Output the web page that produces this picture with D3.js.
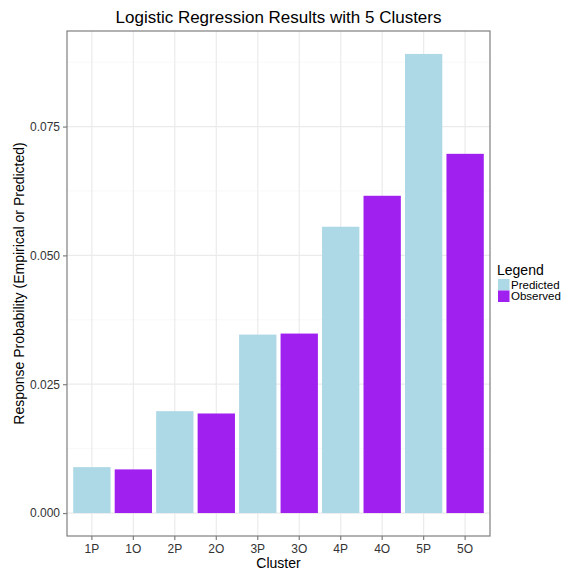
<!DOCTYPE html>
<html>
<head>
<meta charset="utf-8">
<script src="https://cdn.jsdelivr.net/npm/d3@7"></script>
<style>
body { margin: 0; background: #fff; }
text { font-family: "Liberation Sans", Arial, sans-serif; }
</style>
</head>
<body>
<div id="chart"></div>
<script>
// data
var clusters = ["1P", "1O", "2P", "2O", "3P", "3O", "4P", "4O", "5P", "5O"];
var kinds = ["Predicted", "Observed", "Predicted", "Observed", "Predicted", "Observed", "Predicted", "Observed", "Predicted", "Observed"];
var probs = [0.00891, 0.00847, 0.01977, 0.01932, 0.03463, 0.03483, 0.05556, 0.06157, 0.08909, 0.06971];
var yTicks = [0, 0.025, 0.05, 0.075];
var yMinor = [0.0125, 0.0375, 0.0625, 0.0875];
var legendItems = ["Predicted", "Observed"];
var legendColors = ["#ADD8E6", "#A020F0"];

var width = 575, height = 574;
var panel = { left: 67, right: 490, top: 31, bottom: 536 };

var svg = d3.select("#chart").append("svg")
	.attr("width", width)
	.attr("height", height);

//Scales: bands of 0.9, 0.6 step of space at each end (ggplot style)
var x = d3.scaleBand()
	.domain(clusters)
	.range([panel.left, panel.right])
	.paddingInner(0.1)
	.paddingOuter(0.15);

var ymax = d3.max(probs);
var y = d3.scaleLinear()
	.domain([-ymax * 0.05, ymax * 1.05])
	.range([panel.bottom, panel.top]);

var color = d3.scaleOrdinal().domain(legendItems).range(legendColors);

//Panel background
svg.append("rect")
	.attr("x", panel.left).attr("y", panel.top)
	.attr("width", panel.right - panel.left)
	.attr("height", panel.bottom - panel.top)
	.attr("fill", "#fff");

//Grid
svg.selectAll(".minor")
	.data(yMinor)
	.enter().append("line")
	.attr("x1", panel.left).attr("x2", panel.right)
	.attr("y1", function(d) { return y(d); })
	.attr("y2", function(d) { return y(d); })
	.attr("stroke", "#F8F8F8").attr("stroke-width", 1);

svg.selectAll(".major-y")
	.data(yTicks)
	.enter().append("line")
	.attr("x1", panel.left).attr("x2", panel.right)
	.attr("y1", function(d) { return y(d); })
	.attr("y2", function(d) { return y(d); })
	.attr("stroke", "#EBEBEB").attr("stroke-width", 1.2);

svg.selectAll(".major-x")
	.data(clusters)
	.enter().append("line")
	.attr("y1", panel.top).attr("y2", panel.bottom)
	.attr("x1", function(d) { return x(d) + x.bandwidth() / 2; })
	.attr("x2", function(d) { return x(d) + x.bandwidth() / 2; })
	.attr("stroke", "#EBEBEB").attr("stroke-width", 1.2);

//Bars
svg.selectAll(".bar")
	.data(clusters)
	.enter().append("rect")
	.attr("class", "bar")
	.attr("x", function(d) { return x(d); })
	.attr("width", x.bandwidth())
	.attr("y", function(d, i) { return y(probs[i]); })
	.attr("height", function(d, i) { return y(0) - y(probs[i]); })
	.attr("fill", function(d, i) { return color(kinds[i]); });

//Panel border
svg.append("rect")
	.attr("x", panel.left).attr("y", panel.top)
	.attr("width", panel.right - panel.left)
	.attr("height", panel.bottom - panel.top)
	.attr("fill", "none")
	.attr("stroke", "#7F7F7F").attr("stroke-width", 1.2);

//Axes
var yAxis = svg.append("g")
	.attr("transform", "translate(" + panel.left + ",0)")
	.call(d3.axisLeft(y).tickValues(yTicks).tickFormat(d3.format(".3f")).tickSize(4).tickPadding(3));

var xAxis = svg.append("g")
	.attr("transform", "translate(0," + panel.bottom + ")")
	.call(d3.axisBottom(x).tickSize(4).tickPadding(4));

[yAxis, xAxis].forEach(function(a) {
	a.select(".domain").remove();
	a.selectAll(".tick line").attr("stroke", "#7F7F7F").attr("stroke-width", 1.2);
	a.selectAll(".tick text")
		.attr("fill", "#333")
		.style("font-size", "12px")
		.style("font-family", "Liberation Sans, Arial, sans-serif");
});

//Title and axis labels
svg.append("text")
	.attr("x", (panel.left + panel.right) / 2)
	.attr("y", 23)
	.attr("text-anchor", "middle")
	.style("font-size", "17px")
	.text("Logistic Regression Results with 5 Clusters");

svg.append("text")
	.attr("x", (panel.left + panel.right) / 2)
	.attr("y", 568)
	.attr("text-anchor", "middle")
	.style("font-size", "14px")
	.text("Cluster");

svg.append("text")
	.attr("transform", "translate(24," + ((panel.top + panel.bottom) / 2) + ") rotate(-90)")
	.attr("text-anchor", "middle")
	.style("font-size", "14px")
	.text("Response Probability (Empirical or Predicted)");

//Legend
var legend = svg.append("g").attr("transform", "translate(497,264)");
legend.append("text")
	.attr("x", 0).attr("y", 11)
	.style("font-size", "14px")
	.text("Legend");
legendItems.forEach(function(item, i) {
	legend.append("rect")
		.attr("x", 1).attr("y", 15 + i * 11.5)
		.attr("width", 11.5).attr("height", 11.5)
		.attr("fill", legendColors[i]);
	legend.append("text")
		.attr("x", 14).attr("y", 24.5 + i * 11.5)
		.style("font-size", "11.5px")
		.text(item);
});
</script>
</body>
</html>
